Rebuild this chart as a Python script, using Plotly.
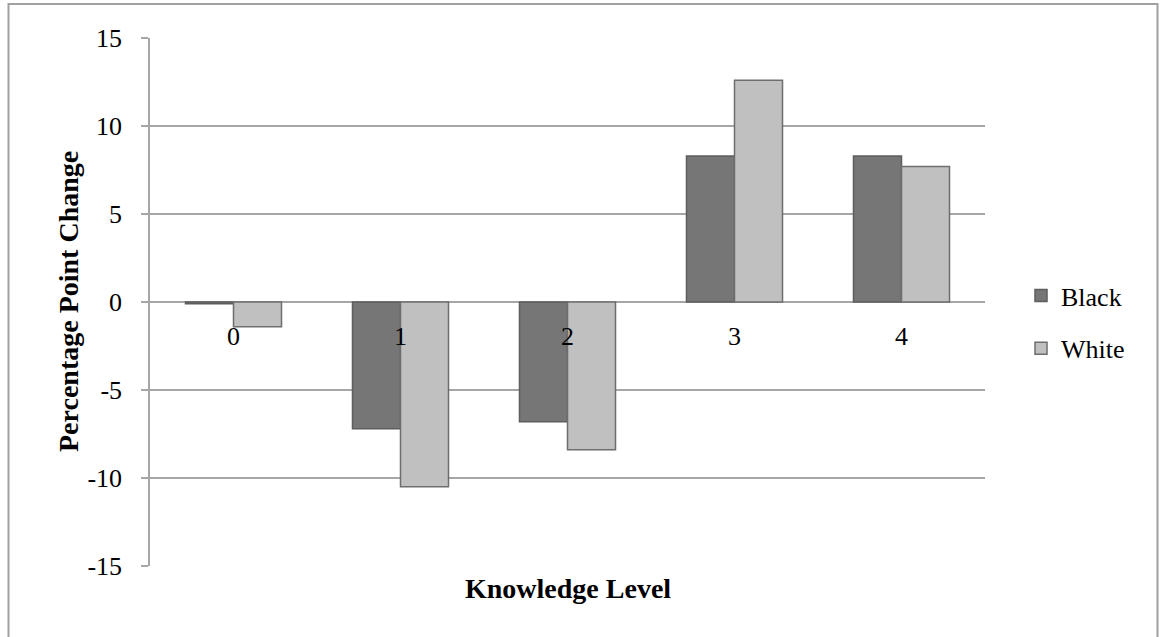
import plotly.graph_objects as go

categories = ["0", "1", "2", "3", "4"]
black_values = [-0.1, -7.2, -6.8, 8.3, 8.3]
white_values = [-1.4, -10.5, -8.4, 12.6, 7.7]
y_ticks = [-15, -10, -5, 0, 5, 10, 15]

FONT = "Liberation Serif"
W, H = 1160, 637
L, T = 150, 38
R = W - 985
B = H - 566
PW, PH = W - L - R, H - T - B

fig = go.Figure()
fig.add_trace(go.Bar(
    x=categories, y=black_values, name="Black", legendgroup="black",
    marker=dict(color="#767676", line=dict(color="#5e5e5e", width=1.5)),
))
fig.add_trace(go.Bar(
    x=categories, y=white_values, name="White", legendgroup="white",
    marker=dict(color="#c0c0c0", line=dict(color="#6e6e6e", width=1.5)),
))

def px_x(px):
    return (px - L) / PW

def px_y(py):
    return (H - B - py) / PH

fig.update_layout(
    width=W, height=H,
    margin=dict(l=L, r=R, t=T, b=B, autoexpand=False),
    paper_bgcolor="white", plot_bgcolor="white",
    font=dict(family=FONT, size=26, color="#000000"),
    barmode="group", bargap=0.425, bargroupgap=0,
    showlegend=True,
    legend=dict(
        x=px_x(1021), y=px_y(322), xanchor="left", yanchor="middle",
        font=dict(family=FONT, size=26, color="#000000"),
        bgcolor="rgba(0,0,0,0)", itemwidth=30, tracegroupgap=16,
    ),
    xaxis=dict(
        type="category", anchor="free", position=0.5,
        showgrid=False, showline=False, zeroline=False, ticks="",
        ticklabelstandoff=16,
        tickfont=dict(family=FONT, size=26, color="#000000"),
    ),
    yaxis=dict(
        range=[-15, 15], tickvals=y_ticks, ticktext=[str(v) for v in y_ticks],
        showgrid=True, gridcolor="#a6a6a6", gridwidth=1.5,
        zeroline=False,
        showline=True, linecolor="#a6a6a6", linewidth=1.5,
        ticks="outside", ticklen=7, tickcolor="#a6a6a6", tickwidth=1.5,
        ticklabelstandoff=14,
        tickfont=dict(family=FONT, size=26, color="#000000"),
    ),
    annotations=[
        dict(text="<b>Percentage Point Change</b>", textangle=-90,
             xref="paper", yref="paper", x=px_x(68), y=px_y(302),
             xanchor="center", yanchor="middle", showarrow=False,
             font=dict(family=FONT, size=28, color="#000000")),
        dict(text="<b>Knowledge Level</b>",
             xref="paper", yref="paper", x=px_x(568), y=px_y(588),
             xanchor="center", yanchor="middle", showarrow=False,
             font=dict(family=FONT, size=28, color="#000000")),
    ],
    shapes=[
        dict(type="rect", xref="paper", yref="paper",
             x0=px_x(8.5), x1=px_x(1157.5), y0=px_y(645), y1=px_y(4),
             line=dict(color="#a0a0a0", width=2), fillcolor="rgba(0,0,0,0)",
             layer="below"),
    ],
)

fig.write_html(
    "out.html",
    config={"displayModeBar": False},
    post_script="document.body.style.margin='0px';document.body.style.overflow='hidden';",
)
